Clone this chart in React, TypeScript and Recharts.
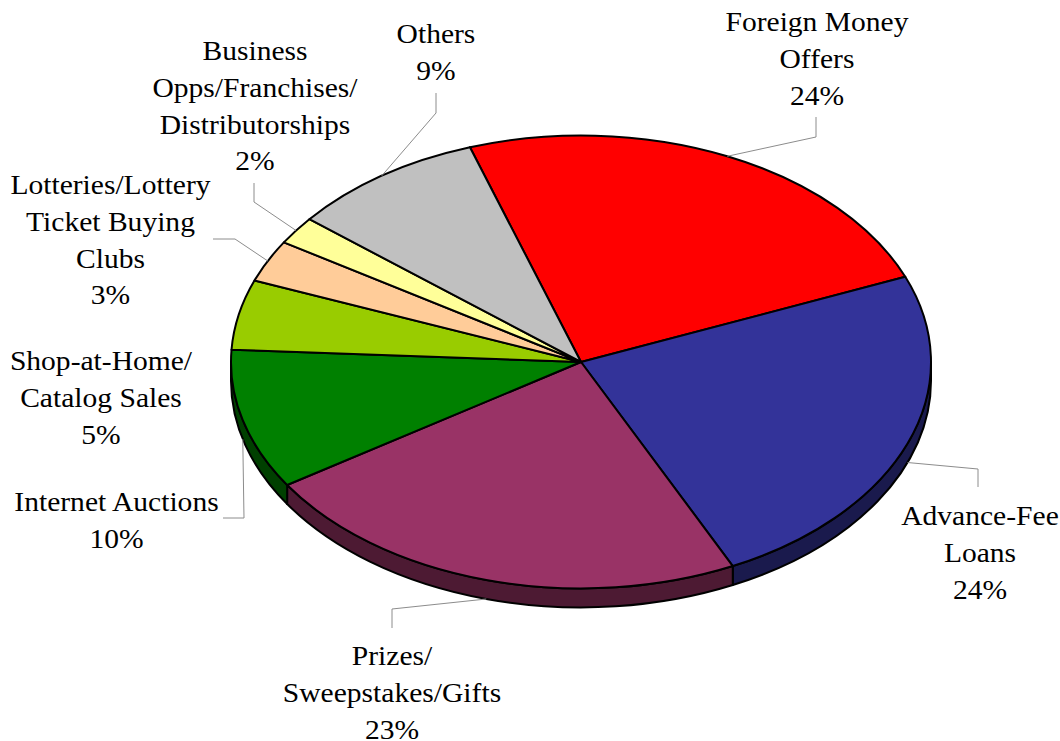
import React from 'react';
import { PieChart, Pie, Cell } from 'recharts';

const categories = [
  'Foreign Money\nOffers',
  'Advance-Fee\nLoans',
  'Prizes/\nSweepstakes/Gifts',
  'Internet Auctions',
  'Shop-at-Home/\nCatalog Sales',
  'Lotteries/Lottery\nTicket Buying\nClubs',
  'Business\nOpps/Franchises/\nDistributorships',
  'Others',
];
const shares = [24, 24, 23, 10, 5, 3, 2, 9];

const faceColors = ['#ff0000', '#333399', '#993366', '#008000', '#99cc00', '#ffcc99', '#ffff99', '#c0c0c0'];
const sideColors = ['#800000', '#1a1a4d', '#4d1a33', '#004000', '#4d6600', '#806633', '#80804d', '#606060'];

// where each label block sits (centre x, first baseline) and its leader's fixed elbow points
const labelBoxes = [
  { x: 817, y: 31, elbow: [[816, 117], [816, 137]] },
  { x: 980, y: 525, elbow: [[978, 487], [978, 469]] },
  { x: 392, y: 665, elbow: [[392, 628], [392, 609]] },
  { x: 116.5, y: 511, elbow: [[223, 518], [244, 518]] },
  { x: 101, y: 370, elbow: null },
  { x: 110.5, y: 194, elbow: [[213, 239], [235, 239]] },
  { x: 255, y: 60, elbow: [[254, 183], [254, 202]] },
  { x: 436, y: 43, elbow: [[436, 93], [436, 113]] },
];

const data = categories.map((name, i) => ({ name, value: shares[i] }));

const WIDTH = 1060;
const HEIGHT = 741;
const CX = 581;
const CY = 362;
const RADIUS = 350;
const TILT = 0.647; // vertical squash of the pie disc
const DEPTH = 19;
const START_ANGLE = 108.5;
const LINE_HEIGHT = 36.8;
const TEXT_STRETCH = 1.095; // labels run wider than the font's natural width

const RAD = Math.PI / 180;

function rimPoint(cx: number, cy: number, r: number, deg: number) {
  return [cx + r * Math.cos(deg * RAD), cy - r * TILT * Math.sin(deg * RAD)];
}

// top face of a slice, squashed into an ellipse
function FaceSlice(props: any) {
  const { cx, cy, outerRadius: r, startAngle, endAngle, fill } = props;
  const [x0, y0] = rimPoint(cx, cy, r, startAngle);
  const [x1, y1] = rimPoint(cx, cy, r, endAngle);
  const large = Math.abs(startAngle - endAngle) > 180 ? 1 : 0;
  const d = `M${cx},${cy}L${x0},${y0}A${r},${r * TILT} 0 ${large} 1 ${x1},${y1}Z`;
  return <path d={d} fill={fill} stroke="#000" strokeWidth={2} strokeLinejoin="round" />;
}

// outer wall of a slice, only the part on the front half of the disc
function WallSlice(props: any) {
  const { cx, cy, outerRadius: r, startAngle, endAngle, fill } = props;
  const from = Math.min(startAngle, 0);
  const to = Math.max(endAngle, -180);
  if (from <= to) return null;
  const [x0, y0] = rimPoint(cx, cy, r, from);
  const [x1, y1] = rimPoint(cx, cy, r, to);
  const ry = r * TILT;
  const d =
    `M${x0},${y0}A${r},${ry} 0 0 1 ${x1},${y1}` +
    `L${x1},${y1 + DEPTH}A${r},${ry} 0 0 0 ${x0},${y0 + DEPTH}Z`;
  return <path d={d} fill={fill} stroke="#000" strokeWidth={2} strokeLinejoin="round" />;
}

function SliceLabel(props: any) {
  const { index, value, name } = props;
  const box = labelBoxes[index];
  const lines = [...String(name).split('\n'), `${value}%`];
  return (
    <text
      transform={`translate(${box.x} 0) scale(${TEXT_STRETCH} 1) translate(${-box.x} 0)`}
      x={box.x}
      y={box.y}
      textAnchor="middle"
      fontFamily="'Liberation Serif', serif"
      fontSize={27}
      fill="#000"
    >
      {lines.map((line, i) => (
        <tspan key={i} x={box.x} y={box.y + i * LINE_HEIGHT}>
          {line}
        </tspan>
      ))}
    </text>
  );
}

function LeaderLine(props: any) {
  const { index, midAngle, cx, cy, outerRadius } = props;
  const box = labelBoxes[index];
  if (!box.elbow) return <g />;
  const [ex, ey] = rimPoint(cx, cy, outerRadius, midAngle);
  const front = Math.sin(midAngle * RAD) < 0;
  const pts = [...box.elbow, [ex, front ? ey + DEPTH : ey]];
  return <polyline points={pts.map((p) => p.join(',')).join(' ')} fill="none" stroke="#8c8c8c" strokeWidth={1} />;
}

export default function App() {
  return (
    <div style={{ position: 'absolute', left: 0, top: 0, width: WIDTH, height: HEIGHT, background: '#fff' }}>
      <PieChart width={WIDTH} height={HEIGHT} margin={{ top: 0, right: 0, bottom: 0, left: 0 }}>
        <Pie
          data={data}
          dataKey="value"
          nameKey="name"
          cx={CX}
          cy={CY}
          outerRadius={RADIUS}
          startAngle={START_ANGLE}
          endAngle={START_ANGLE - 360}
          isAnimationActive={false}
          shape={WallSlice}
          label={false}
          labelLine={false}
        >
          {data.map((d, i) => (
            <Cell key={d.name} fill={sideColors[i]} />
          ))}
        </Pie>
        <Pie
          data={data}
          dataKey="value"
          nameKey="name"
          cx={CX}
          cy={CY}
          outerRadius={RADIUS}
          startAngle={START_ANGLE}
          endAngle={START_ANGLE - 360}
          isAnimationActive={false}
          shape={FaceSlice}
          label={SliceLabel}
          labelLine={LeaderLine}
        >
          {data.map((d, i) => (
            <Cell key={d.name} fill={faceColors[i]} />
          ))}
        </Pie>
      </PieChart>
    </div>
  );
}
